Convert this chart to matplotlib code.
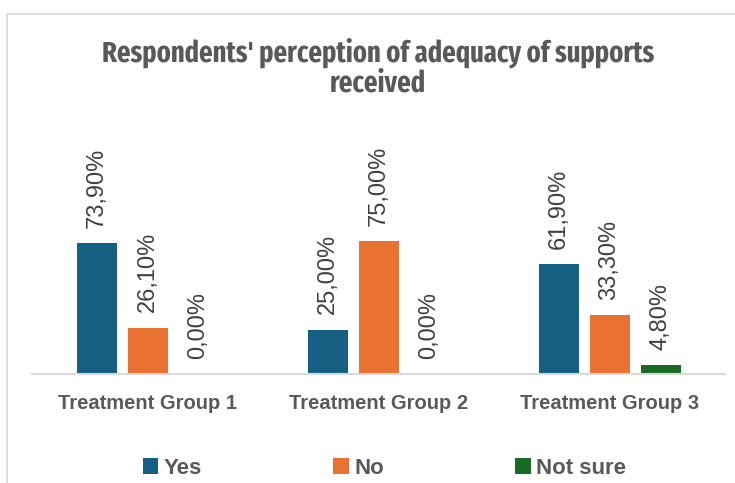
import matplotlib
matplotlib.use("Agg")
import matplotlib.pyplot as plt
import numpy as np
from matplotlib.patches import Patch, Rectangle

categories = ["Treatment Group 1", "Treatment Group 2", "Treatment Group 3"]
series_names = ["Yes", "No", "Not sure"]
yes_vals = [73.9, 25.0, 61.9]
no_vals = [26.1, 75.0, 33.3]
notsure_vals = [0.0, 0.0, 4.8]
title = "Respondents' perception of adequacy of supports\nreceived"

colors = ["#156082", "#E97132", "#196B24"]
W, H = 735, 483
fig = plt.figure(figsize=(W / 100, H / 100), dpi=100)
ax = fig.add_axes([32 / W, 1 - 374 / H, 693 / W, 244 / H])

x = np.arange(len(categories))
width = 40 / 231
offset = 51 / 231
series = [yes_vals, no_vals, notsure_vals]
for i, (vals, name, c) in enumerate(zip(series, series_names, colors)):
    pos = x + (i - 1) * offset
    ax.bar(pos, vals, width=width, color=c, label=name)
    for p, v in zip(pos, vals):
        ax.annotate(f"{v:.2f}%".replace(".", ","), xy=(p, v), xytext=(0, 11),
                    textcoords="offset points", rotation=90, ha="center", va="bottom",
                    fontsize=17, color="#404040", family=["Liberation Sans", "DejaVu Sans"])

ax.set_xlim(-0.5, 2.5)
ax.set_ylim(0, 244 / 1.773)
ax.set_yticks([])
ax.set_xticks(x)
ax.set_xticklabels(categories, fontsize=14.5, fontweight="bold", color="#595959",
                   family=["Liberation Sans", "DejaVu Sans"])
ax.tick_params(axis="x", length=0, pad=14.5)
for s in ["top", "right", "left"]:
    ax.spines[s].set_visible(False)
ax.spines["bottom"].set_color("#D9D9D9")
ax.spines["bottom"].set_linewidth(1.5)
ax.set_facecolor("none")

fig.text(0.514, 1 - 38 / H, title, ha="center", va="top", fontsize=20.8, fontweight="bold",
         color="#595959", family=["Fira Sans Extra Condensed", "Fira Sans Condensed", "DejaVu Sans"],
         linespacing=1.05)

handles = [Patch(facecolor=c) for c in colors]
fig.legend(handles, series_names, loc="center", bbox_to_anchor=(0.523, 1 - 468 / H), ncol=3,
           frameon=False, handlelength=0.7, handleheight=0.7, handletextpad=0.25,
           columnspacing=5.9, prop={"family": ["Liberation Sans", "DejaVu Sans"], "weight": "bold", "size": 16},
           labelcolor="#595959")

fig.add_artist(Rectangle((7 / W, -0.1), 1.2, 1.1 - 14 / H, transform=fig.transFigure,
                         fill=False, edgecolor="#D9D9D9", linewidth=1.2))

fig.savefig("out.png", dpi=100)
